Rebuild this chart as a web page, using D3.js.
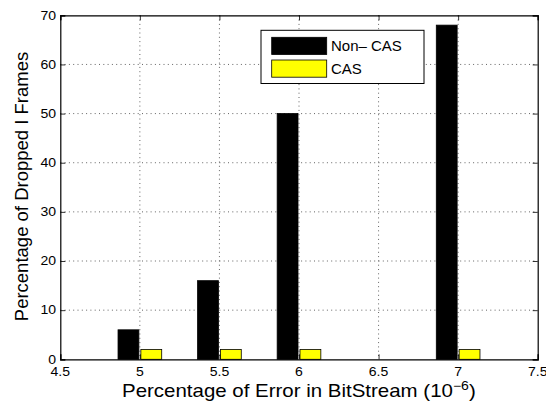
<!DOCTYPE html>
<html>
<head>
<meta charset="utf-8">
<script src="https://cdn.jsdelivr.net/npm/d3@7/dist/d3.min.js"></script>
<style>
  html, body { margin: 0; padding: 0; background: #fff; }
  svg { display: block; font-family: "Liberation Sans", Arial, Helvetica, sans-serif; }
</style>
</head>
<body>
<svg id="chart" width="546" height="408"></svg>
<script>
// Error rates (x 10^-6) and dropped I-frame percentages
const errorRates = [5, 5.5, 6, 7];
const nonCasValues = [6, 16, 50, 68];
const casValues = [2, 2, 2, 2];
const seriesNames = ["Non\u2013 CAS", "CAS"];
const seriesColors = ["#000000", "#ffff00"];
const xTicks = [4.5, 5, 5.5, 6, 6.5, 7, 7.5];
const yTicks = [0, 10, 20, 30, 40, 50, 60, 70];

const svg = d3.select("#chart");
const margin = { left: 60.3, right: 546 - 537.7, top: 15.3, bottom: 408 - 359.3 };
const W = 546, H = 408;
const x = d3.scaleLinear().domain([4.5, 7.5]).range([margin.left, W - margin.right]);
const y = d3.scaleLinear().domain([0, 70]).range([H - margin.bottom, margin.top]);

// grouped bar geometry (in data units)
const slot = 0.1435, barW = 0.131;
const series = [nonCasValues, casValues];

// dotted grid
const grid = svg.append("g").attr("stroke", "#222").attr("stroke-width", 0.7)
  .attr("stroke-dasharray", "1,3.3");
grid.selectAll("line.v").data(xTicks.slice(1, -1)).join("line")
  .attr("x1", d => x(d)).attr("x2", d => x(d))
  .attr("y1", y(70)).attr("y2", y(0));
grid.selectAll("line.h").data(yTicks.slice(1, -1)).join("line")
  .attr("x1", x(4.5)).attr("x2", x(7.5))
  .attr("y1", d => y(d)).attr("y2", d => y(d));

// bars
series.forEach((vals, si) => {
  const off = (si - 0.5) * slot;
  svg.append("g").selectAll("rect").data(errorRates.map((r, i) => ({ r, v: vals[i] }))).join("rect")
    .attr("x", d => x(d.r + off - barW / 2))
    .attr("width", d => x(d.r + off + barW / 2) - x(d.r + off - barW / 2))
    .attr("y", d => y(d.v))
    .attr("height", d => y(0) - y(d.v))
    .attr("fill", seriesColors[si])
    .attr("stroke", "#000").attr("stroke-width", 0.8);
});

// axes box with inward ticks on all sides
const tickLen = 5;
const axB = d3.axisBottom(x).tickValues(xTicks).tickSize(-tickLen).tickFormat("");
const axT = d3.axisTop(x).tickValues(xTicks).tickSize(-tickLen).tickFormat("");
const axL = d3.axisLeft(y).tickValues(yTicks).tickSize(-tickLen).tickFormat("");
const axR = d3.axisRight(y).tickValues(yTicks).tickSize(-tickLen).tickFormat("");
[[axB, `translate(0,${y(0)})`], [axT, `translate(0,${y(70)})`],
 [axL, `translate(${x(4.5)},0)`], [axR, `translate(${x(7.5)},0)`]].forEach(([ax, tr]) => {
  const g = svg.append("g").attr("transform", tr).call(ax);
  g.select(".domain").attr("stroke", "#000").attr("stroke-width", 1.2);
  g.selectAll(".tick line").attr("stroke", "#000").attr("stroke-width", 0.8);
});

// tick labels
const tickFont = 13;
svg.append("g").selectAll("text").data(xTicks).join("text")
  .attr("transform", d => `translate(${x(d)},${376}) scale(1.08,1)`)
  .attr("text-anchor", "middle").attr("font-size", tickFont).attr("fill", "#000")
  .text(d => d);
svg.append("g").selectAll("text").data(yTicks).join("text")
  .attr("transform", d => `translate(${56},${y(d) + 4.2}) scale(1.08,1)`)
  .attr("text-anchor", "end").attr("font-size", tickFont).attr("fill", "#000")
  .text(d => d);

// axis titles
const xt = svg.append("text")
  .attr("transform", `translate(${122},${397}) scale(1.17,1)`)
  .attr("font-size", 17.5).attr("fill", "#000");
xt.append("tspan").text("Percentage of Error in BitStream (10");
xt.append("tspan").attr("font-size", 12).attr("dy", -7).text("\u22126");
xt.append("tspan").attr("dy", 7).text(")");

svg.append("text")
  .attr("transform", `translate(${28},${186.5}) rotate(-90)`)
  .attr("text-anchor", "middle").attr("font-size", 18.5).attr("fill", "#000")
  .text("Percentage of Dropped I Frames");

// legend
const lg = svg.append("g");
lg.append("rect").attr("x", 261).attr("y", 30.3).attr("width", 163).attr("height", 53.2)
  .attr("fill", "#fff").attr("stroke", "#000").attr("stroke-width", 1);
seriesNames.forEach((name, i) => {
  const top = [37.3, 60][i];
  lg.append("rect").attr("x", 271.7).attr("y", top).attr("width", 55).attr("height", 17.2)
    .attr("fill", seriesColors[i]).attr("stroke", "#000").attr("stroke-width", 0.8);
  lg.append("text").attr("x", 331).attr("y", top + 13.5)
    .attr("font-size", 15).attr("fill", "#000").text(name);
});
</script>
</body>
</html>
